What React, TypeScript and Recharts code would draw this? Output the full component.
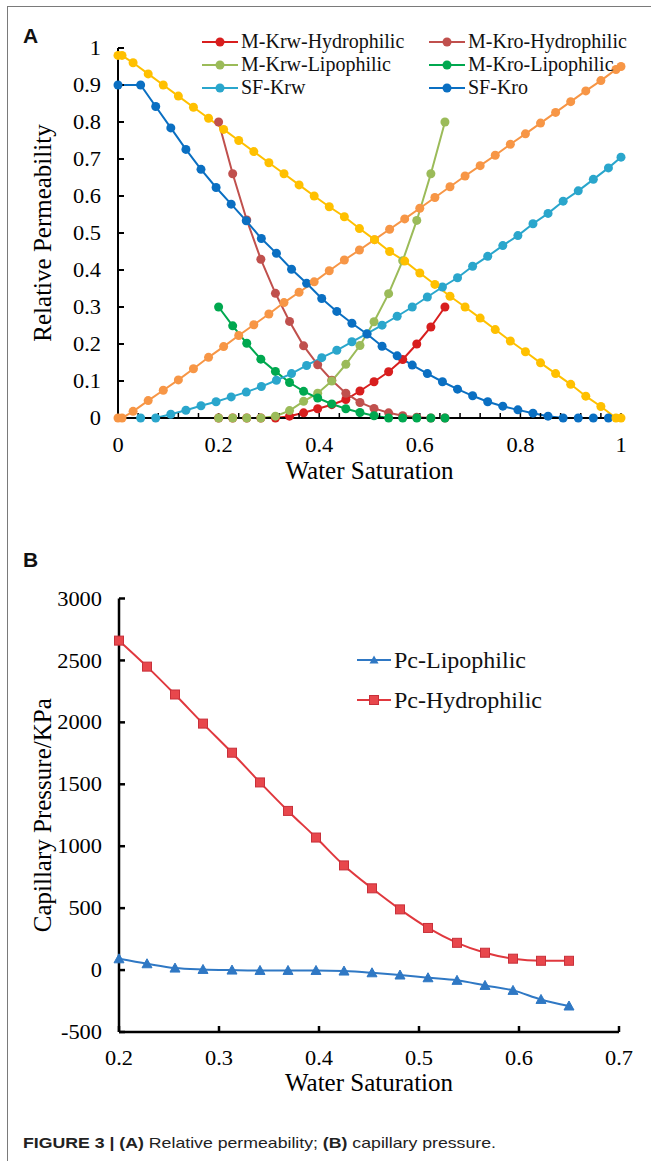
import React from "react";
import { LineChart, Line, XAxis, YAxis, Legend } from "recharts";

const serif = "'Liberation Serif', 'Times New Roman', serif";
const sans = "'Liberation Sans', Arial, sans-serif";

// ---- panel A: relative permeability ----
const mSw = [0.2, 0.228, 0.256, 0.284, 0.313, 0.341, 0.369, 0.397, 0.425, 0.453, 0.481, 0.509, 0.538, 0.566, 0.594, 0.622, 0.65];
const mKrwHydro = [0, 0, 0, 0, 0, 0.005, 0.014, 0.025, 0.036, 0.05, 0.073, 0.098, 0.125, 0.158, 0.2, 0.246, 0.3];
const mKroHydro = [0.8, 0.66, 0.535, 0.429, 0.337, 0.261, 0.195, 0.144, 0.102, 0.067, 0.042, 0.026, 0.014, 0.006, 0.002, 0, 0];
const mKrwLipo = [0, 0, 0, 0, 0.005, 0.02, 0.045, 0.067, 0.1, 0.145, 0.196, 0.26, 0.336, 0.425, 0.534, 0.66, 0.8];
const mKroLipo = [0.3, 0.249, 0.202, 0.159, 0.126, 0.096, 0.072, 0.054, 0.038, 0.025, 0.015, 0.006, 0, 0, 0, 0, 0];

const sfKrwSw = [0.045, 0.075, 0.105, 0.135, 0.165, 0.195, 0.225, 0.255, 0.285, 0.315, 0.345, 0.375, 0.405, 0.435, 0.465, 0.495, 0.525, 0.555, 0.585, 0.615, 0.645, 0.675, 0.705, 0.735, 0.765, 0.795, 0.825, 0.855, 0.885, 0.915, 0.945, 0.975, 1];
const sfKrw = [0, 0, 0.01, 0.021, 0.033, 0.044, 0.057, 0.07, 0.085, 0.102, 0.12, 0.142, 0.163, 0.183, 0.206, 0.228, 0.251, 0.275, 0.3, 0.327, 0.354, 0.379, 0.41, 0.437, 0.466, 0.493, 0.525, 0.553, 0.586, 0.614, 0.645, 0.676, 0.705];
const sfKroSw = [0, 0.045, 0.075, 0.105, 0.135, 0.165, 0.195, 0.225, 0.255, 0.285, 0.315, 0.345, 0.375, 0.405, 0.435, 0.465, 0.495, 0.525, 0.555, 0.585, 0.615, 0.645, 0.675, 0.705, 0.735, 0.765, 0.795, 0.825, 0.855, 0.885, 0.915, 0.945, 0.975];
const sfKro = [0.9, 0.9, 0.842, 0.784, 0.726, 0.672, 0.623, 0.578, 0.533, 0.485, 0.445, 0.402, 0.364, 0.323, 0.288, 0.256, 0.227, 0.194, 0.168, 0.143, 0.12, 0.098, 0.078, 0.06, 0.044, 0.032, 0.022, 0.013, 0.005, 0, 0, 0, 0];

// the two curves with no legend entry (orange / yellow)
const extSw = [0, 0.008, 0.03, 0.06, 0.09, 0.12, 0.15, 0.18, 0.21, 0.24, 0.27, 0.3, 0.33, 0.36, 0.39, 0.42, 0.45, 0.48, 0.51, 0.54, 0.57, 0.6, 0.63, 0.66, 0.69, 0.72, 0.75, 0.78, 0.81, 0.84, 0.87, 0.9, 0.93, 0.96, 0.99, 1];
const extOrange = [0, 0, 0.018, 0.047, 0.075, 0.103, 0.133, 0.164, 0.193, 0.223, 0.252, 0.281, 0.312, 0.34, 0.368, 0.398, 0.427, 0.454, 0.482, 0.51, 0.538, 0.567, 0.596, 0.625, 0.654, 0.682, 0.71, 0.74, 0.768, 0.797, 0.826, 0.855, 0.884, 0.912, 0.942, 0.95];
const extYellow = [0.98, 0.98, 0.96, 0.93, 0.9, 0.87, 0.84, 0.81, 0.78, 0.75, 0.72, 0.69, 0.66, 0.63, 0.6, 0.571, 0.544, 0.512, 0.482, 0.45, 0.424, 0.392, 0.361, 0.329, 0.3, 0.27, 0.239, 0.208, 0.179, 0.149, 0.12, 0.091, 0.059, 0.031, 0, 0];

// major labels every 0.2, small inside ticks every 0.04
const xTicksA = [0, 0.04, 0.08, 0.12, 0.16, 0.2, 0.24, 0.28, 0.32, 0.36, 0.4, 0.44, 0.48, 0.52, 0.56, 0.6, 0.64, 0.68, 0.72, 0.76, 0.8, 0.84, 0.88, 0.92, 0.96, 1];
const xLabelsA = ["0", "0.2", "0.4", "0.6", "0.8", "1"];
const yTicksA = [0, 0.1, 0.2, 0.3, 0.4, 0.5, 0.6, 0.7, 0.8, 0.9, 1];

// ---- panel B: capillary pressure ----
const pcSw = [0.2, 0.228, 0.256, 0.284, 0.313, 0.341, 0.369, 0.397, 0.425, 0.453, 0.481, 0.509, 0.538, 0.566, 0.594, 0.622, 0.65];
const pcLipo = [91, 51, 16, 5, 0, -3, -3, -3, -8, -22, -40, -62, -83, -124, -164, -237, -290];
const pcHydro = [2660, 2450, 2225, 1990, 1755, 1515, 1285, 1070, 845, 660, 490, 340, 220, 140, 92, 75, 75];

const xTicksB = [0.2, 0.3, 0.4, 0.5, 0.6, 0.7];
const yTicksB = [-500, 0, 500, 1000, 1500, 2000, 2500, 3000];

const pts = (xs: number[], ys: number[]) => xs.map((x, i) => ({ x, y: ys[i] }));

const seriesA = [
  { name: "M-Krw-Hydrophilic", color: "#D81E1E", data: pts(mSw, mKrwHydro), legend: true },
  { name: "M-Kro-Hydrophilic", color: "#C0504D", data: pts(mSw, mKroHydro), legend: true },
  { name: "M-Krw-Lipophilic", color: "#9BBB59", data: pts(mSw, mKrwLipo), legend: true },
  { name: "M-Kro-Lipophilic", color: "#00A84F", data: pts(mSw, mKroLipo), legend: true },
  { name: "SF-Krw", color: "#2AA6CC", data: pts(sfKrwSw, sfKrw), legend: true },
  { name: "SF-Kro", color: "#0A6FC2", data: pts(sfKroSw, sfKro), legend: true },
  { name: "ext-krw", color: "#F79646", data: pts(extSw, extOrange), legend: false },
  { name: "ext-kro", color: "#FFC000", data: pts(extSw, extYellow), legend: false },
];
const legendOrderA = seriesA.filter((s) => s.legend).map((s) => s.name);
const legendOrderB = ["Pc-Lipophilic", "Pc-Hydrophilic"];

const titleStyle = { fill: "#000", fontSize: 25, fontFamily: serif };

// tick text slightly widened, like the scanned figure
function makeTick(side: "x" | "y", fmt: (v: number) => string) {
  return (p: any) => {
    const label = fmt(p.payload.value);
    if (!label) return <g />;
    return (
      <text
        transform={`translate(${p.x},${p.y}) scale(1.12,1)`}
        textAnchor={p.textAnchor}
        dy={side === "x" ? "0.71em" : "0.355em"}
        fill="#000"
        fontSize={20}
        fontFamily={serif}
      >
        {label}
      </text>
    );
  };
}

const fmtXA = (v: number) => {
  const s = String(Number(v.toFixed(2)));
  return xLabelsA.includes(s) ? s : "";
};
const fmtPlain = (v: number) => String(v);

function pick(payload: any[], order: string[]) {
  return order.map((n) => payload.find((e: any) => e.value === n)).filter(Boolean);
}

function LegendA(props: any) {
  const items = pick(props.payload || [], legendOrderA);
  return (
    <div style={{ display: "grid", gridTemplateColumns: "227px 210px" }}>
      {items.map((e: any) => (
        <div key={e.value} style={{ display: "flex", alignItems: "center", height: 23, fontFamily: serif, fontSize: 20, color: "#111", whiteSpace: "nowrap" }}>
          <svg width={36} height={12} style={{ marginRight: 3 }}>
            <line x1={0} y1={6} x2={36} y2={6} stroke={e.color} strokeWidth={2} />
            <circle cx={18} cy={6} r={4.5} fill={e.color} />
          </svg>
          {e.value}
        </div>
      ))}
    </div>
  );
}

function Tri(p: any) {
  const { cx, cy, index } = p;
  return <polygon key={"t" + index} points={`${cx},${cy - 5} ${cx - 5},${cy + 4} ${cx + 5},${cy + 4}`} fill="#2F78C4" stroke="#2F78C4" />;
}

function Sq(p: any) {
  const { cx, cy, index } = p;
  return <rect key={"s" + index} x={cx - 4.5} y={cy - 4.5} width={9} height={9} fill="#E8474C" stroke="#C8303A" strokeWidth={1} />;
}

function LegendB(props: any) {
  const items = pick(props.payload || [], legendOrderB);
  return (
    <div>
      {items.map((e: any) => (
        <div key={e.value} style={{ display: "flex", alignItems: "center", height: 40, fontFamily: serif, fontSize: 24, color: "#111", whiteSpace: "nowrap" }}>
          <svg width={34} height={12} style={{ marginRight: 3 }}>
            <line x1={0} y1={6} x2={34} y2={6} stroke={e.color} strokeWidth={2} />
            {e.value === "Pc-Lipophilic" ? (
              <polygon points="17,1.5 12.5,9.5 21.5,9.5" fill="#2F78C4" />
            ) : (
              <rect x={12.5} y={1.5} width={9} height={9} fill="#E8474C" stroke="#C8303A" />
            )}
          </svg>
          {e.value}
        </div>
      ))}
    </div>
  );
}

export default function App() {
  return (
    <div style={{ position: "absolute", left: 0, top: 0, width: 651, height: 1161, background: "#fff", overflow: "hidden" }}>
      {/* figure frame */}
      <div style={{ position: "absolute", left: 7, top: 6, width: 660, height: 1170, borderLeft: "1.5px solid #7a7a7a", borderTop: "1.5px solid #7a7a7a" }} />

      <div style={{ position: "absolute", left: 23, top: 25, fontFamily: sans, fontWeight: 700, fontSize: 21, lineHeight: "21px", color: "#111" }}>A</div>
      <div style={{ position: "absolute", left: 23, top: 549, fontFamily: sans, fontWeight: 700, fontSize: 21, lineHeight: "21px", color: "#111" }}>B</div>

      <div style={{ position: "absolute", left: 0, top: 0 }}>
        <LineChart width={651} height={500} margin={{ top: 48, right: 30, bottom: 20, left: 0 }}>
          <XAxis
            type="number"
            dataKey="x"
            domain={[0, 1]}
            ticks={xTicksA}
            interval={0}
            height={62}
            tick={makeTick("x", fmtXA)}
            tickSize={-5}
            tickMargin={25}
            axisLine={{ stroke: "#000", strokeWidth: 2 }}
            tickLine={{ stroke: "#000", strokeWidth: 1.5 }}
            label={{ value: "Water Saturation", position: "center", dy: 21, style: titleStyle }}
          />
          <YAxis
            type="number"
            domain={[0, 1]}
            ticks={yTicksA}
            interval={0}
            width={118}
            tick={makeTick("y", fmtPlain)}
            tickSize={-6}
            tickMargin={23}
            axisLine={{ stroke: "#000", strokeWidth: 2 }}
            tickLine={{ stroke: "#000", strokeWidth: 2 }}
            label={{ value: "Relative Permeability", angle: -90, position: "center", dx: -17, style: titleStyle }}
          />
          <Legend
            layout="vertical"
            align="center"
            verticalAlign="middle"
            wrapperStyle={{ left: 202, top: 30, width: 440 }}
            content={LegendA}
          />
          {seriesA.map((s) => (
            <Line
              key={s.name}
              data={s.data}
              dataKey="y"
              name={s.name}
              type="linear"
              stroke={s.color}
              strokeWidth={2}
              dot={{ r: 4.5, fill: s.color, stroke: s.color, strokeWidth: 0 }}
              activeDot={false}
              legendType={s.legend ? "line" : "none"}
              isAnimationActive={false}
            />
          ))}
        </LineChart>
      </div>

      <div style={{ position: "absolute", left: 0, top: 540 }}>
        <LineChart width={651} height={560} margin={{ top: 58.5, right: 32, bottom: 6, left: 0 }}>
          <XAxis
            type="number"
            dataKey="x"
            domain={[0.2, 0.7]}
            ticks={xTicksB}
            interval={0}
            height={62}
            tick={makeTick("x", fmtPlain)}
            tickSize={-6}
            tickMargin={25}
            axisLine={{ stroke: "#000", strokeWidth: 2.5 }}
            tickLine={{ stroke: "#000", strokeWidth: 2.5 }}
            label={{ value: "Water Saturation", position: "center", dy: 19, style: titleStyle }}
          />
          <YAxis
            type="number"
            domain={[-500, 3000]}
            ticks={yTicksB}
            interval={0}
            width={119}
            tick={makeTick("y", fmtPlain)}
            tickSize={-6}
            tickMargin={23}
            axisLine={{ stroke: "#000", strokeWidth: 2.5 }}
            tickLine={{ stroke: "#000", strokeWidth: 2.5 }}
            label={{ value: "Capillary Pressure/KPa", angle: -90, position: "center", dx: -17, style: titleStyle }}
          />
          <Legend
            layout="vertical"
            align="center"
            verticalAlign="middle"
            wrapperStyle={{ left: 357, top: 100, width: 260 }}
            content={LegendB}
          />
          <Line
            data={pts(pcSw, pcLipo)}
            dataKey="y"
            name="Pc-Lipophilic"
            type="monotone"
            stroke="#2F78C4"
            strokeWidth={2}
            dot={Tri}
            activeDot={false}
            isAnimationActive={false}
          />
          <Line
            data={pts(pcSw, pcHydro)}
            dataKey="y"
            name="Pc-Hydrophilic"
            type="monotone"
            stroke="#E0383E"
            strokeWidth={2}
            dot={Sq}
            activeDot={false}
            isAnimationActive={false}
          />
        </LineChart>
      </div>

      <div style={{ position: "absolute", left: 23, top: 1136, fontFamily: sans, fontSize: 14.5, lineHeight: "14.5px", color: "#222", whiteSpace: "nowrap", transform: "scaleX(1.22)", transformOrigin: "left top" }}>
        <b>FIGURE 3 | (A)</b> Relative permeability; <b>(B)</b> capillary pressure.
      </div>
    </div>
  );
}
